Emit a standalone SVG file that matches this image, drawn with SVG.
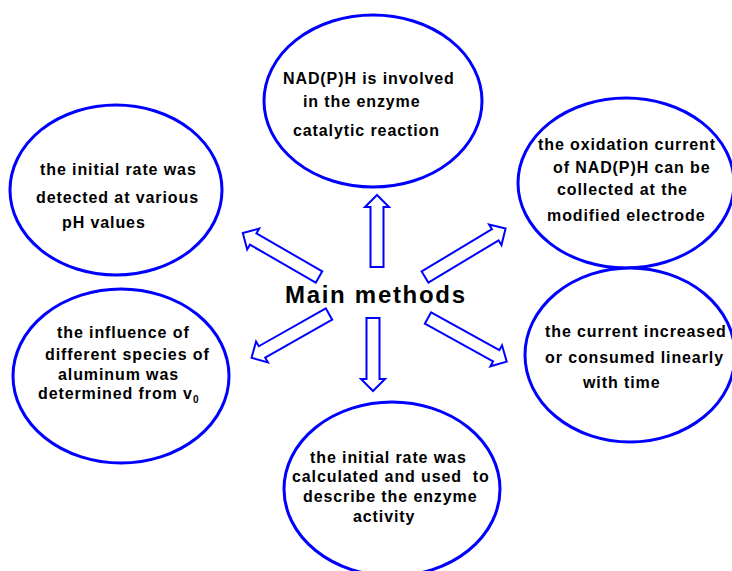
<svg xmlns="http://www.w3.org/2000/svg" width="732" height="571" viewBox="0 0 732 571">
<style>
.node{fill:#ffffff;stroke:#0000ff;stroke-width:3}
.arrow{fill:#ffffff;stroke:#0000ff;stroke-width:2;stroke-linejoin:miter}
.t{font-family:"Liberation Sans",Arial,sans-serif;font-size:16px;font-weight:bold;fill:#000;letter-spacing:0.9px}
.main{font-family:"Liberation Sans",Arial,sans-serif;font-size:24px;font-weight:bold;fill:#000;letter-spacing:1.7px}
</style>
<rect width="732" height="571" fill="#ffffff"/>
<g id="top">
<ellipse class="node" cx="373" cy="101" rx="109" ry="86"/>
<text class="t" x="283" y="84">NAD(P)H is involved</text>
<text class="t" x="303" y="107">in the enzyme</text>
<text class="t" x="293" y="136">catalytic reaction</text>
</g>
<g id="left-top">
<ellipse class="node" cx="116" cy="190" rx="106" ry="85"/>
<text class="t" x="40" y="175">the initial rate was</text>
<text class="t" x="36" y="203">detected at various</text>
<text class="t" x="62" y="228">pH values</text>
</g>
<g id="right-top">
<ellipse class="node" cx="626" cy="183" rx="108" ry="85"/>
<text class="t" x="538" y="150">the oxidation current</text>
<text class="t" x="553" y="173">of NAD(P)H can be</text>
<text class="t" x="557" y="195">collected at the</text>
<text class="t" x="547" y="221">modified electrode</text>
</g>
<g id="left-bottom">
<ellipse class="node" cx="121" cy="376" rx="108" ry="87"/>
<text class="t" x="57" y="338">the influence of</text>
<text class="t" x="45" y="360">different species of</text>
<text class="t" x="58" y="380">aluminum was</text>
<text class="t" x="38" y="399">determined from v<tspan font-size="10px" dy="4">0</tspan></text>
</g>
<g id="right-bottom">
<ellipse class="node" cx="630" cy="355" rx="105" ry="87"/>
<text class="t" x="545" y="337">the current increased</text>
<text class="t" x="545" y="363">or consumed linearly</text>
<text class="t" x="583" y="388">with time</text>
</g>
<g id="bottom">
<ellipse class="node" cx="392" cy="489" rx="108" ry="87"/>
<text class="t" x="310" y="463">the initial rate was</text>
<text class="t" x="292" y="482" xml:space="preserve">calculated and used  to</text>
<text class="t" x="303" y="502">describe the enzyme</text>
<text class="t" x="353" y="522">activity</text>
</g>
<g id="center">
<text class="main" x="285" y="303">Main methods</text>
</g>
<g id="connectors">
<path class="arrow" transform="translate(377,267) rotate(-90)" d="M0,-6.5 H60 V-12 L72,0 L60,12 V6.5 H0 Z"/>
<path class="arrow" transform="translate(373,318) rotate(90)" d="M0,-6.5 H61 V-12 L73,0 L61,12 V6.5 H0 Z"/>
<path class="arrow" transform="translate(319,277) rotate(210)" d="M0,-6.5 H76 V-12 L88,0 L76,12 V6.5 H0 Z"/>
<path class="arrow" transform="translate(425,277) rotate(-31)" d="M0,-6.5 H82 V-12 L94,0 L82,12 V6.5 H0 Z"/>
<path class="arrow" transform="translate(329,314) rotate(150.5)" d="M0,-6.5 H77 V-12 L89,0 L77,12 V6.5 H0 Z"/>
<path class="arrow" transform="translate(428,318) rotate(29)" d="M0,-6.5 H78 V-12 L90,0 L78,12 V6.5 H0 Z"/>
</g>
</svg>
